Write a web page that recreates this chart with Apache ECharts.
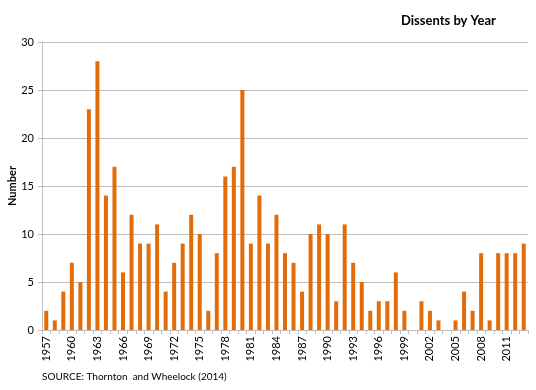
<!DOCTYPE html>
<html><head><meta charset="utf-8">
<script src="https://cdn.jsdelivr.net/npm/echarts@6/dist/echarts.min.js"></script>
<style>html,body{margin:0;padding:0;background:#fff}#c{width:536px;height:390px}</style>
</head><body><div id="c"></div>
<script>
const years = [];
for (let y = 1957; y <= 2013; y++) years.push(String(y));
const dissents = [2,1,4,7,5,23,28,14,17,6,12,9,9,11,4,7,9,12,10,2,8,16,17,25,9,14,9,12,8,7,4,10,11,10,3,11,7,5,2,3,3,6,2,0,3,2,1,0,1,4,2,8,1,8,8,8,9];
const yTicks = [0,5,10,15,20,25,30];
const titleText = 'Dissents by Year';
const yName = 'Number';
const sourceText = 'SOURCE: Thornton  and Wheelock (2014)';
const FF = 'Lato, "Open Sans", sans-serif';

const chart = echarts.init(document.getElementById('c'));
chart.setOption({
  animation: false,
  title: [{
    text: titleText, left: 396, top: 9,
    textStyle: {fontFamily: FF, fontSize: 13, fontWeight: 'bold', color: '#000'}
  }],
  graphic: [{
    type: 'text', left: 42, top: 372,
    style: {text: sourceText, font: '10px ' + FF, fill: '#000'}
  }],
  grid: {left: 42, right: 8, top: 42, bottom: 60, containLabel: false, outerBoundsMode: 'none'},
  xAxis: {
    type: 'category', data: years,
    axisLine: {lineStyle: {color: '#bfbfbf'}},
    axisTick: {show: true, alignWithLabel: false, interval: 0, lineStyle: {color: '#bfbfbf'}, length: 4},
    axisLabel: {
      rotate: 90, interval: 2, fontFamily: FF, fontSize: 11, color: '#000', margin: 6
    }
  },
  yAxis: {
    type: 'value', min: yTicks[0], max: yTicks[yTicks.length - 1], interval: 5,
    name: yName, nameLocation: 'middle', nameGap: 24, nameRotate: 90, nameMoveOverlap: false,
    nameTextStyle: {fontFamily: FF, fontSize: 11, fontWeight: 'bold', color: '#000'},
    axisLine: {show: true, lineStyle: {color: '#bfbfbf'}},
    axisTick: {show: true, length: 4, lineStyle: {color: '#bfbfbf'}},
    axisLabel: {fontFamily: FF, fontSize: 11, color: '#000', margin: 8},
    splitLine: {lineStyle: {color: '#bfbfbf', width: 1}}
  },
  series: [{
    type: 'bar', data: dissents, barWidth: 4,
    itemStyle: {color: '#E36C09'}
  }]
});
</script></body></html>
